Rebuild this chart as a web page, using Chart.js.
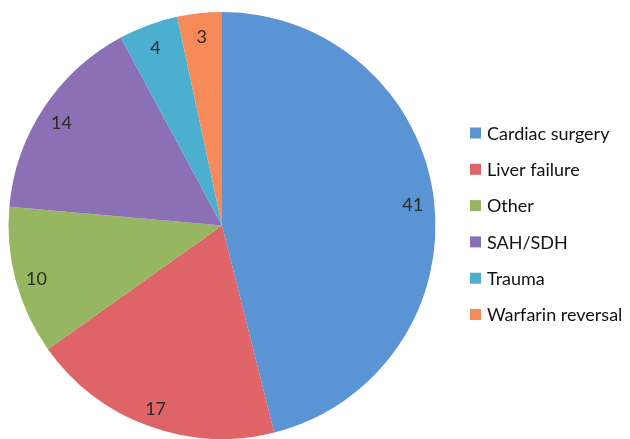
<!DOCTYPE html>
<html>
<head>
<meta charset="utf-8">
<script src="https://cdn.jsdelivr.net/npm/chart.js@4/dist/chart.umd.min.js"></script>
<style>
  html, body { margin: 0; padding: 0; background: #fff; }
  #wrap { width: 630px; height: 439px; }
</style>
</head>
<body>
<div id="wrap"><canvas id="pieChart"></canvas></div>
<script>
//////// Data ////////
const categories = [
  "Cardiac surgery",
  "Liver failure",
  "Other",
  "SAH/SDH",
  "Trauma",
  "Warfarin reversal",
];
const counts = [41, 17, 10, 14, 4, 3];
const sliceColors = [
  "#5a94d4",
  "#de6467",
  "#96b662",
  "#8b70b6",
  "#4cafcf",
  "#f68a58",
];

const FONT = "Lato, Calibri, 'Open Sans', sans-serif";

//////// Value labels inside slices ////////
const sliceLabels = {
  id: "sliceLabels",
  afterDatasetsDraw(chart) {
    const ctx = chart.ctx;
    const meta = chart.getDatasetMeta(0);
    ctx.save();
    ctx.font = "18px " + FONT;
    ctx.fillStyle = "#2b2b2b";
    ctx.textAlign = "center";
    ctx.textBaseline = "middle";
    meta.data.forEach((arc, i) => {
      const p = arc.getProps(["x", "y", "startAngle", "endAngle", "outerRadius"], true);
      const mid = (p.startAngle + p.endAngle) / 2;
      const r = p.outerRadius * 0.9;
      ctx.fillText(String(counts[i]), p.x + Math.cos(mid) * r, p.y + Math.sin(mid) * r + 3);
    });
    ctx.restore();
  },
};

//////// Legend on the right ////////
const sideLegend = {
  id: "sideLegend",
  afterDraw(chart) {
    const ctx = chart.ctx;
    const boxX = 470;
    const firstY = 133;
    const step = 36.3;
    const box = 11;
    ctx.save();
    ctx.font = "18px " + FONT;
    ctx.textBaseline = "middle";
    ctx.textAlign = "left";
    chart.data.labels.forEach((label, i) => {
      const y = firstY + i * step;
      ctx.fillStyle = sliceColors[i];
      ctx.fillRect(boxX, y - box / 2, box, box);
      ctx.fillStyle = "#111";
      ctx.fillText(label, boxX + 17, y + 1);
    });
    ctx.restore();
  },
};

const ctx = document.getElementById("pieChart");
const pieChart = new Chart(ctx, {
  type: "pie",
  data: {
    labels: categories,
    datasets: [
      {
        data: counts,
        backgroundColor: sliceColors,
        borderWidth: 0,
      },
    ],
  },
  options: {
    responsive: true,
    maintainAspectRatio: false,
    animation: false,
    layout: {
      padding: { left: 7, top: 12, right: 193, bottom: 0 },
    },
    plugins: {
      legend: { display: false },
      tooltip: { enabled: false },
    },
  },
  plugins: [sliceLabels, sideLegend],
});
</script>
</body>
</html>
